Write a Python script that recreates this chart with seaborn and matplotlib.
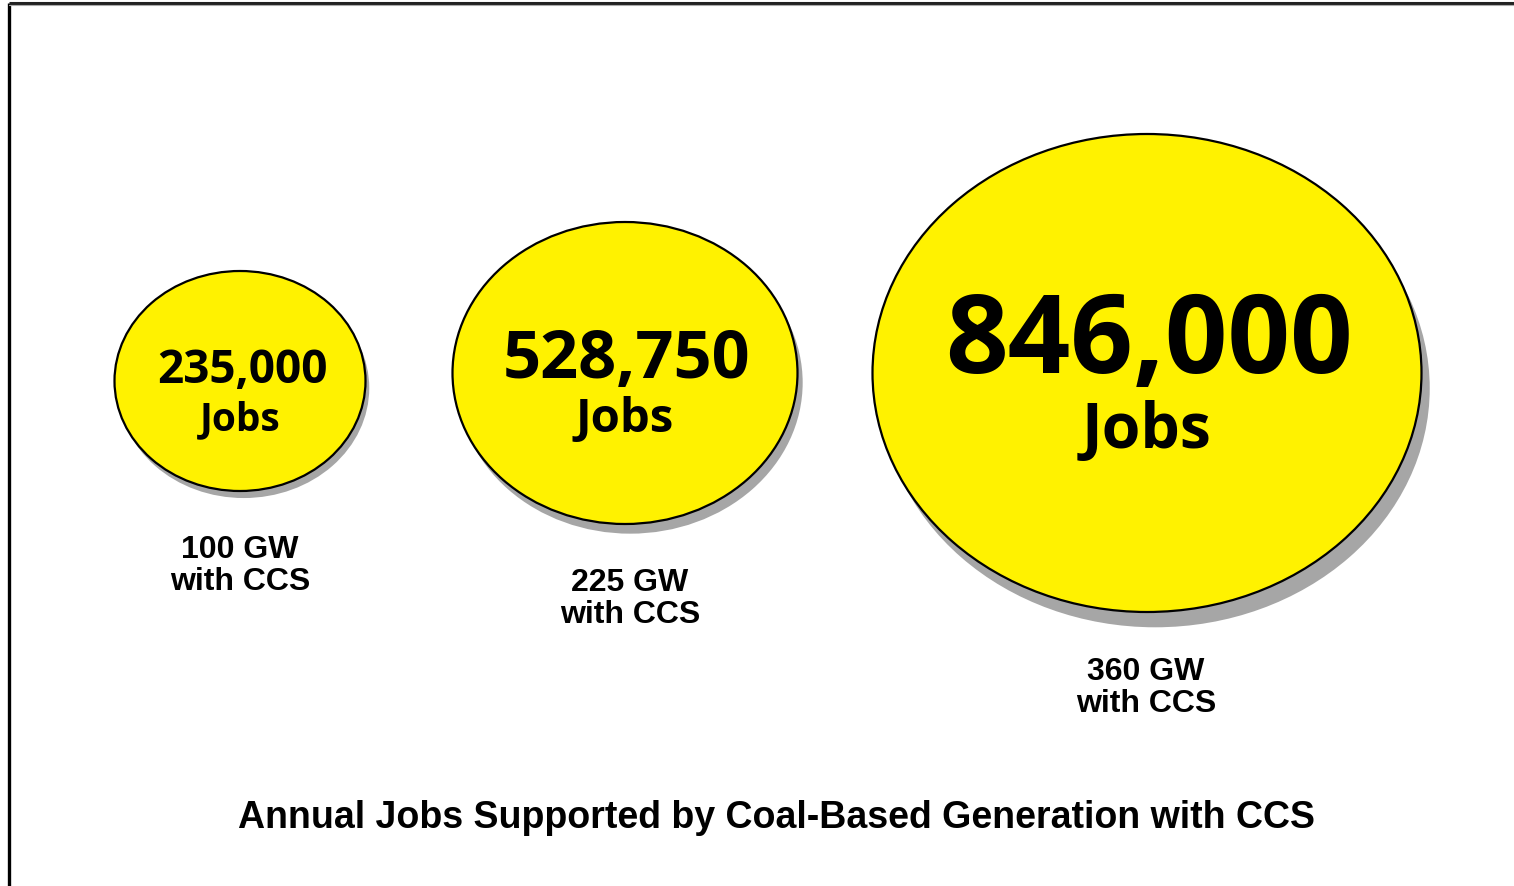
import matplotlib
matplotlib.use('Agg')
import matplotlib.pyplot as plt
from matplotlib.patches import Ellipse
import seaborn as sns

# datos del gráfico
capacidad_gw = [100, 225, 360]
empleos = [235000, 528750, 846000]
titulo = "Annual Jobs Supported by Coal-Based Generation with CCS"

# geometría de cada burbuja (pixeles de la figura)
centros_x = [240, 625, 1147]
centros_y = [382, 374, 374]
anchos = [251, 345, 549]
altos = [220, 302, 478]
fs_numero = [33, 48, 79]
fs_jobs = [28, 34, 45]
base_numero = [383, 378, 373]
base_jobs = [430, 432, 448]
base_etiqueta = [558, 591, 680]
x_etiqueta = [240, 630, 1146]

sns.set_theme(style="white")
plt.rcParams['font.family'] = ['Open Sans', 'DejaVu Sans']
arial = ['Liberation Sans', 'DejaVu Sans']

W, H = 1514, 887
fig = plt.figure(figsize=(W / 100, H / 100), dpi=100)
ax = fig.add_axes([0, 0, 1, 1])
ax.set_xlim(0, W)
ax.set_ylim(H, 0)
ax.axis('off')

# marco (solo izquierda y arriba)
ax.plot([9, 9], [4, H], color='black', lw=2.4, solid_capstyle='butt')
ax.plot([9, W], [4, 4], color='#222222', lw=2.2, solid_capstyle='butt')
ax.plot([9, W], [6, 6], color='#aaaaaa', lw=0.8)

for i, valor in enumerate(empleos):
    cx, cy, w, h = centros_x[i], centros_y[i], anchos[i], altos[i]
    dx, dy = w * 0.015, h * 0.032
    sombra = Ellipse((cx + dx, cy + dy), w, h, facecolor='#a6a6a6', edgecolor='none', zorder=1)
    ax.add_patch(sombra)
    burbuja = Ellipse((cx, cy), w, h, facecolor='#fff200', edgecolor='black', lw=1.6, zorder=2)
    ax.add_patch(burbuja)
    ax.text(cx + 2, base_numero[i], f"{valor:,}", ha='center', va='baseline',
            fontsize=fs_numero[i], fontweight='bold', color='black', zorder=3)
    ax.text(cx, base_jobs[i], "Jobs", ha='center', va='baseline',
            fontsize=fs_jobs[i], fontweight='bold', color='black', zorder=3)
    ax.text(x_etiqueta[i], base_etiqueta[i], f"{capacidad_gw[i]} GW", ha='center', va='baseline',
            fontsize=23, fontweight='bold', family=arial, color='black', zorder=3)
    ax.text(x_etiqueta[i], base_etiqueta[i] + 32, "with CCS", ha='center', va='baseline',
            fontsize=23, fontweight='bold', family=arial, color='black', zorder=3)

ax.text(776, 828, titulo, ha='center', va='baseline', fontsize=27, fontweight='bold',
        family=arial, color='black')

fig.savefig('out.png', dpi=100, facecolor='white')
